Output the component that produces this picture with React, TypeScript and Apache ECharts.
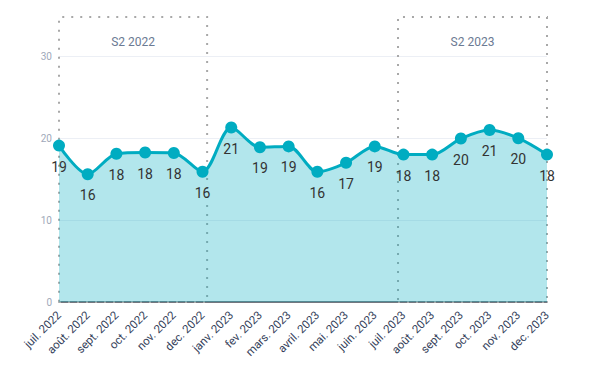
import React, { useEffect, useRef } from "react";
import * as echarts from "echarts";

const categories = [
  "juil. 2022", "août. 2022", "sept. 2022", "oct. 2022", "nov. 2022", "dec. 2022",
  "janv. 2023", "fev. 2023", "mars. 2023", "avril. 2023", "mai. 2023", "juin. 2023",
  "juil. 2023", "août. 2023", "sept. 2023", "oct. 2023", "nov. 2023", "dec. 2023",
];
const values = [19.1, 15.6, 18.1, 18.25, 18.2, 15.9, 21.3, 18.9, 19.0, 15.9, 17.0, 19.0, 18.0, 18.0, 19.96, 21.0, 20.0, 18.0];
const bands = [
  { name: "S2 2022", from: 0, to: 5.16 },
  { name: "S2 2023", from: 11.81, to: 17 },
];

export default function App() {
  const ref = useRef<HTMLDivElement>(null);
  useEffect(() => {
    if (!ref.current) return;
    const chart = echarts.init(ref.current, null, { renderer: "svg" });
    chart.setOption({
      animation: false,
      textStyle: { fontFamily: "Roboto" },
      grid: { left: 59, right: 42, top: 17, bottom: 64, containLabel: false },
      xAxis: [
        {
          type: "category",
          data: categories,
          boundaryGap: false,
          axisLine: { lineStyle: { color: "#4a4f57", width: 1.5 } },
          axisTick: { show: false },
          axisLabel: { rotate: 45, fontSize: 11.5, color: "#34415a", margin: 11, interval: 0 },
          splitLine: { show: false },
        },
        { type: "value", min: 0, max: categories.length - 1, show: false },
      ],
      yAxis: {
        type: "value",
        min: 0,
        max: 34.8,
        interval: 10,
        axisLine: { show: false },
        axisTick: { show: false },
        axisLabel: { fontSize: 10, color: "#a0a9ba", margin: 7, showMaxLabel: false },
        splitLine: { lineStyle: { color: "#eceff5" }, showMaxLine: false },
      },
      series: [
        {
          type: "line",
          data: values,
          smooth: 0.3,
          symbol: "circle",
          symbolSize: 12,
          lineStyle: { color: "#00acc1", width: 3 },
          itemStyle: { color: "#00acc1" },
          areaStyle: { color: "#00acc1", opacity: 0.3 },
          label: {
            show: true,
            position: "bottom",
            distance: 8,
            fontSize: 14,
            color: "#333",
            formatter: (p: any) => String(Math.round(p.value)),
          },
        },
        {
          type: "line",
          xAxisIndex: 1,
          data: [],
          markArea: {
            silent: true,
            itemStyle: {
              color: "transparent",
              borderColor: "#a8a8a8",
              borderWidth: 2,
              borderType: [2, 7],
            },
            label: {
              position: "insideTop",
              distance: 20,
              fontSize: 12,
              color: "#6b7a93",
            },
            data: bands.map((b) => [
              { name: b.name, xAxis: b.from },
              { xAxis: b.to },
            ]),
          },
        },
      ],
    });
    return () => chart.dispose();
  }, []);
  return <div ref={ref} style={{ width: 589, height: 366, position: "absolute", left: 0, top: 0 }} />;
}
